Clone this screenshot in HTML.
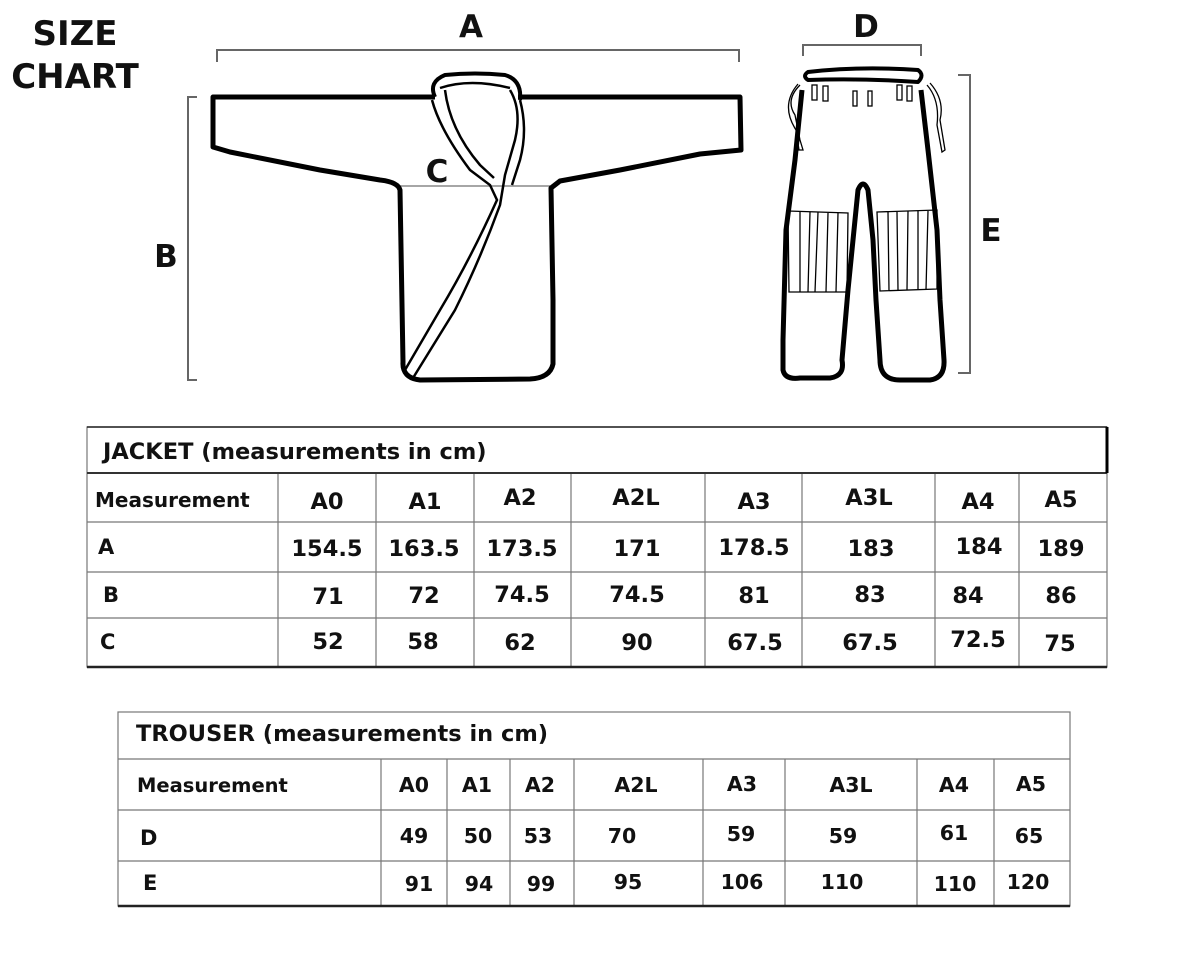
<!DOCTYPE html>
<html><head><meta charset="utf-8"><style>
html,body{margin:0;padding:0;background:#fff;}
svg{display:block;}
text{font-family:"DejaVu Sans","Liberation Sans",sans-serif;fill:#111;}
</style></head><body>
<svg width="1200" height="960" viewBox="0 0 1200 960" xmlns="http://www.w3.org/2000/svg">
<!-- Title -->
<text x="75" y="45" font-size="34" font-weight="bold" text-anchor="middle">SIZE</text>
<text x="75" y="88" font-size="34" font-weight="bold" text-anchor="middle">CHART</text>
<!-- Brackets -->
<g stroke="#666" stroke-width="2" fill="none">
<path d="M217 62 V50 H739 V62"/>
<path d="M197 97 H188 V380 H197"/>
<path d="M803 56 V45 H921 V56"/>
<path d="M958 75 H970 V373 H958"/>
<path d="M400 186 H550" stroke="#888" stroke-width="1.5"/>
</g>
<text x="471" y="37" font-size="31" font-weight="bold" text-anchor="middle">A</text>
<text x="866" y="37" font-size="31" font-weight="bold" text-anchor="middle">D</text>
<text x="166" y="267" font-size="31" font-weight="bold" text-anchor="middle">B</text>
<text x="991" y="241" font-size="31" font-weight="bold" text-anchor="middle">E</text>
<text x="437" y="182" font-size="31" font-weight="bold" text-anchor="middle">C</text>
<!-- Jacket -->
<g stroke="#000" stroke-width="5" fill="none" stroke-linejoin="round">
<path d="M435 97 L213 97 L213 147 L230 152 L320 170 L380 180 Q398 182 400 190 L403 362 Q402 378 420 380 L530 379 Q550 378 553 364 L553 300 L551 188 L560 181 L620 170 L700 154 L741 150 L740 97 L518 97"/>
<path d="M435 97 Q428 82 445 75 Q475 72 505 75 Q522 80 520 100" stroke-width="4"/>
</g>
<g stroke="#000" stroke-width="2.5" fill="none">
<path d="M440 88 Q470 78 510 88"/>
<path d="M432 100 Q440 130 470 170 L490 185 L497 200 Q470 260 440 310 L405 370"/>
<path d="M445 90 Q450 130 480 165 L494 178"/>
<path d="M510 90 Q522 110 515 140 L505 175 L500 205 Q480 260 455 310 L413 378"/>
<path d="M520 100 Q528 130 520 160 L512 185"/>
</g>
<!-- Trousers -->
<g stroke="#000" stroke-width="5" fill="none" stroke-linejoin="round">
<path d="M808 72 Q860 66 918 70 Q925 75 918 82 Q860 78 808 80 Q802 76 808 72 Z" stroke-width="4"/>
<path d="M802 90 L795 160 L786 230 L783 340 L783 370 Q785 380 800 378 L830 378 Q845 376 842 360 L848 290 L855 220 L858 190 Q863 178 868 190 L873 240 L876 300 L880 360 Q880 380 900 380 L930 380 Q945 378 944 360 L940 300 L937 230 L928 150 L921 90"/>
</g>
<g stroke="#000" stroke-width="1.3" fill="none">
<path d="M800 85 Q785 100 795 115 L800 140 L803 150 L799 150 L796 130 Q780 105 798 84"/>
<path d="M930 83 Q945 100 940 120 L945 150 L942 152 L937 125 Q940 100 927 85"/>
<rect x="812" y="85" width="5" height="15"/><rect x="823" y="86" width="5" height="15"/>
<rect x="853" y="91" width="4" height="15"/><rect x="868" y="91" width="4" height="15"/>
<rect x="897" y="85" width="5" height="15"/><rect x="907" y="86" width="5" height="15"/>
<path d="M788 211 L848 213 L847 292 L789 292 Z"/>
<path d="M800 211 L800 292 M810 212 L808 292 M818 212 L815 292 M828 213 L826 292 M838 213 L836 292"/>
<path d="M877 212 L937 210 L937 289 L880 291 Z"/>
<path d="M888 212 L889 291 M897 212 L898 290 M908 211 L907 290 M918 211 L918 290 M928 211 L926 290"/>
</g>
<!-- Jacket table -->
<g stroke="#777" stroke-width="1.2" fill="none">
<rect x="87" y="427" width="1020" height="240"/>
<path d="M87 522 H1107 M87 572 H1107 M87 618 H1107"/>
<path d="M278 473 V667 M376 473 V667 M474 473 V667 M571 473 V667 M705 473 V667 M802 473 V667 M935 473 V667 M1019 473 V667"/>
</g>
<path d="M87 473 H1107" stroke="#333" stroke-width="2"/>
<path d="M87 667 H1107" stroke="#222" stroke-width="2.5"/>
<path d="M87 427 H1107" stroke="#222" stroke-width="1.5"/>
<path d="M1107 427 V473" stroke="#000" stroke-width="3"/>
<text x="103" y="459" font-size="22.5" font-weight="bold">JACKET (measurements in cm)</text>
<g font-weight="bold">
<text x="95" y="507" font-size="20">Measurement</text>
<text x="98" y="554" font-size="21">A</text><text x="103" y="602" font-size="21">B</text><text x="100" y="649" font-size="21">C</text>
</g>
<g font-size="22.5" font-weight="bold" text-anchor="middle">
<text x="327" y="509">A0</text><text x="425" y="509">A1</text><text x="520" y="505">A2</text><text x="636" y="505">A2L</text><text x="754" y="509">A3</text><text x="869" y="505">A3L</text><text x="978" y="509">A4</text><text x="1061" y="507">A5</text>
<text x="327" y="556">154.5</text><text x="424" y="556">163.5</text><text x="522" y="556">173.5</text><text x="637" y="556">171</text><text x="754" y="555">178.5</text><text x="871" y="556">183</text><text x="979" y="554">184</text><text x="1061" y="556">189</text>
<text x="328" y="604">71</text><text x="424" y="603">72</text><text x="522" y="602">74.5</text><text x="637" y="602">74.5</text><text x="754" y="603">81</text><text x="870" y="602">83</text><text x="968" y="603">84</text><text x="1061" y="603">86</text>
<text x="328" y="649">52</text><text x="423" y="649">58</text><text x="520" y="650">62</text><text x="637" y="650">90</text><text x="755" y="650">67.5</text><text x="870" y="650">67.5</text><text x="978" y="647">72.5</text><text x="1060" y="651">75</text>
</g>
<!-- Trouser table -->
<g stroke="#777" stroke-width="1.2" fill="none">
<rect x="118" y="712" width="952" height="194"/>
<path d="M118 759 H1070 M118 810 H1070 M118 861 H1070"/>
<path d="M381 759 V906 M447 759 V906 M510 759 V906 M574 759 V906 M703 759 V906 M785 759 V906 M917 759 V906 M994 759 V906"/>
</g>
<path d="M118 906 H1070" stroke="#222" stroke-width="2.5"/>
<g font-weight="bold">
<text x="136" y="741" font-size="22.5">TROUSER (measurements in cm)</text>
<text x="137" y="792" font-size="19.5">Measurement</text>
<text x="140" y="845" font-size="21">D</text><text x="143" y="890" font-size="21">E</text>
</g>
<g font-size="20.5" font-weight="bold" text-anchor="middle">
<text x="414" y="792">A0</text><text x="477" y="792">A1</text><text x="540" y="792">A2</text><text x="636" y="792">A2L</text><text x="742" y="791">A3</text><text x="851" y="792">A3L</text><text x="954" y="792">A4</text><text x="1031" y="791">A5</text>
<text x="414" y="843">49</text><text x="478" y="843">50</text><text x="538" y="843">53</text><text x="622" y="843">70</text><text x="741" y="841">59</text><text x="843" y="843">59</text><text x="954" y="840">61</text><text x="1029" y="843">65</text>
<text x="419" y="891">91</text><text x="479" y="891">94</text><text x="541" y="891">99</text><text x="628" y="889">95</text><text x="742" y="889">106</text><text x="842" y="889">110</text><text x="955" y="891">110</text><text x="1028" y="889">120</text>
</g>
</svg>
</body></html>
